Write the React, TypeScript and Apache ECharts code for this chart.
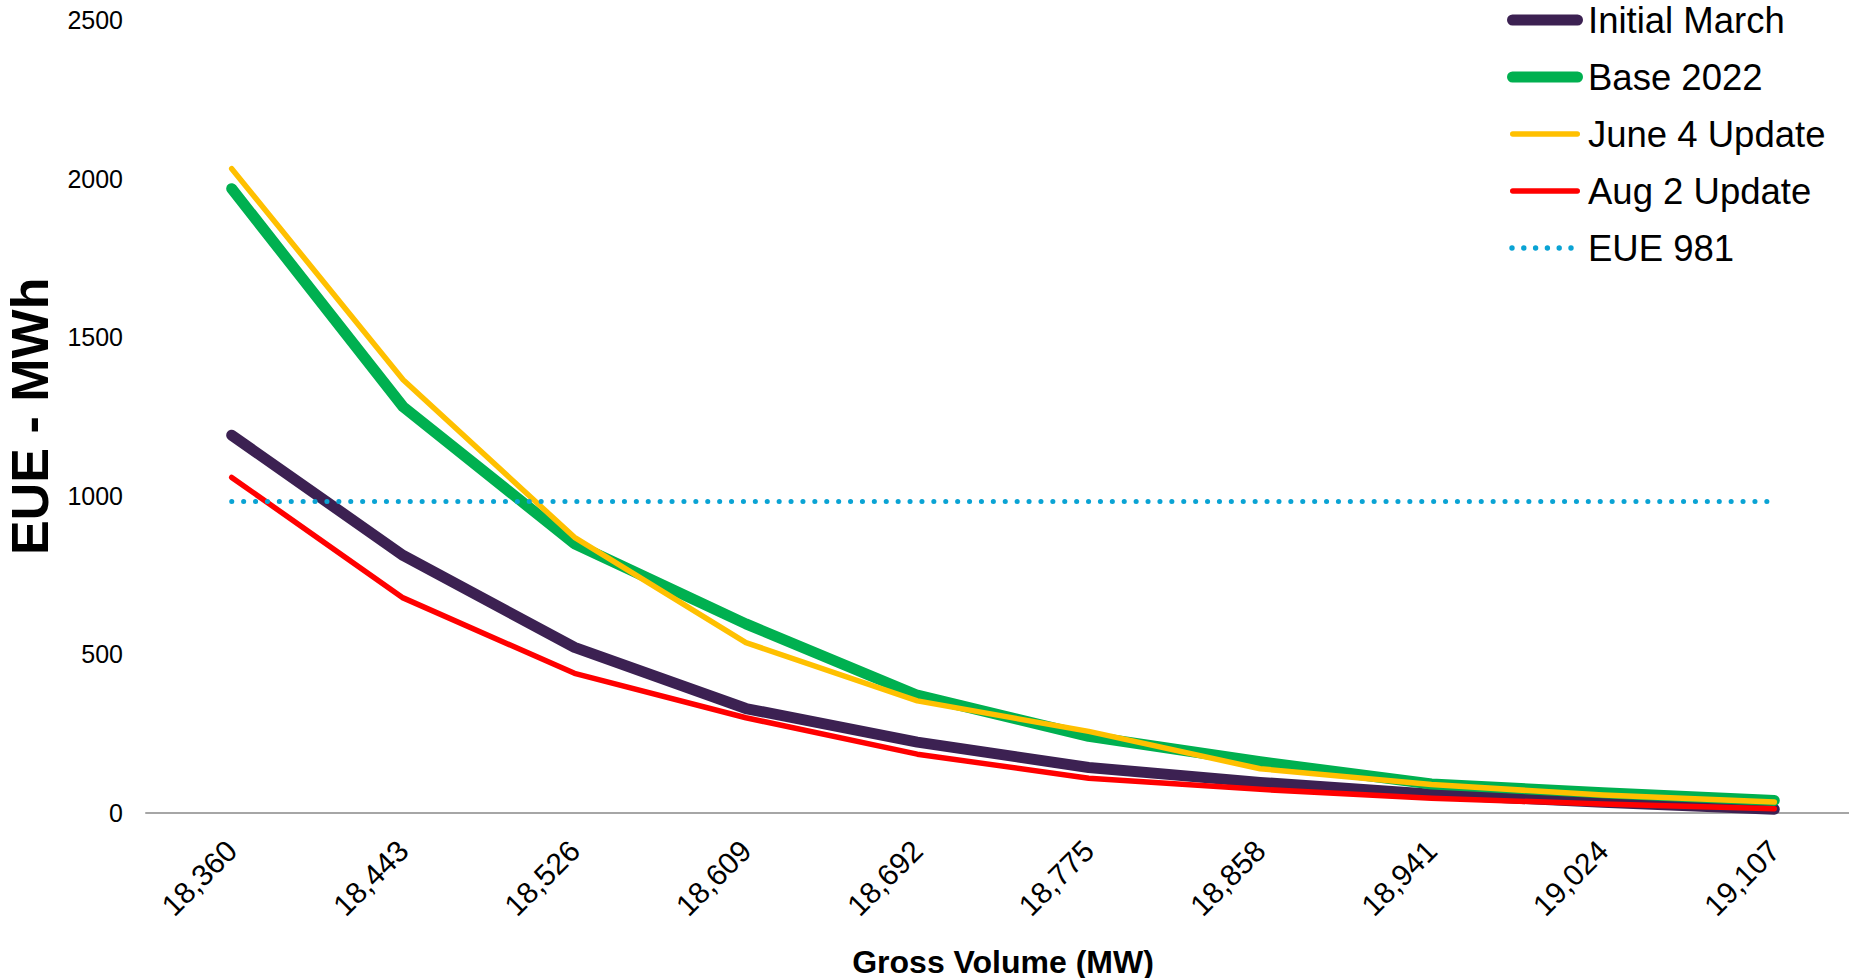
import React, { useEffect, useRef } from "react";
import * as echarts from "echarts";

const categories = ["18,360", "18,443", "18,526", "18,609", "18,692", "18,775", "18,858", "18,941", "19,024", "19,107"];
const initialMarch = [1190, 811, 521, 328, 222, 142, 95, 58, 32, 10];
const base2022 = [1968, 1280, 848, 595, 370, 240, 160, 90, 62, 38];
const june4Update = [2031, 1365, 868, 536, 352, 256, 138, 88, 55, 33];
const aug2Update = [1057, 677, 439, 299, 184, 108, 73, 45, 27, 12];
const eue981 = [981, 981, 981, 981, 981, 981, 981, 981, 981, 981];
const seriesNames = ["Initial March", "Base 2022", "June 4 Update", "Aug 2 Update", "EUE 981"];

const yMin = 0;
const yMax = 2500;
const yInterval = 500;

const FONT = "'Liberation Sans', Arial, Helvetica, sans-serif";

const thickIcon =
  "path://M0,0 M76,12 M5.5,0.5 L70.5,0.5 A5.5,5.5 0 0 1 70.5,11.5 L5.5,11.5 A5.5,5.5 0 0 1 5.5,0.5 Z";
const thinIcon =
  "path://M0,0 M76,12 M5.75,3.25 L70.25,3.25 A2.75,2.75 0 0 1 70.25,8.75 L5.75,8.75 A2.75,2.75 0 0 1 5.75,3.25 Z";
const dotCenters = [5, 16.8, 28.6, 40.4, 52.2, 64];
const dotIcon =
  "path://M0,0 M76,12 " +
  dotCenters
    .map((c) => `M${c - 2.7},6 A2.7,2.7 0 1 0 ${c + 2.7},6 A2.7,2.7 0 1 0 ${c - 2.7},6 Z`)
    .join(" ");

export default function App() {
  const ref = useRef<HTMLDivElement>(null);

  useEffect(() => {
    if (!ref.current) return;
    const chart = echarts.init(ref.current, null, { renderer: "svg" });
    const mk = (name: string, data: number[], color: string, width: number, type: any = "solid") => ({
      name,
      type: "line",
      data,
      symbol: "none",
      showSymbol: false,
      lineStyle: { color, width, type, cap: "round", join: "round" },
      itemStyle: { color },
      emphasis: { disabled: true },
    });
    chart.setOption({
      animation: false,
      backgroundColor: "#ffffff",
      textStyle: { fontFamily: FONT },
      grid: { left: 146, right: -11, top: 20, bottom: 165.5, containLabel: false, outerBoundsMode: "none" },
      legend: {
        orient: "vertical",
        left: 1507,
        top: 0,
        padding: 0,
        itemWidth: 76,
        itemHeight: 12,
        itemGap: 17,
        selectedMode: false,
        textStyle: { fontSize: 36.5, color: "#000", fontFamily: FONT, lineHeight: 40 },
        data: [
          { name: seriesNames[0], icon: thickIcon },
          { name: seriesNames[1], icon: thickIcon },
          { name: seriesNames[2], icon: thinIcon },
          { name: seriesNames[3], icon: thinIcon },
          { name: seriesNames[4], icon: dotIcon },
        ],
      },
      xAxis: {
        type: "category",
        data: categories,
        boundaryGap: true,
        axisLine: { show: true, lineStyle: { color: "#A6A6A6", width: 2 } },
        axisTick: { show: false },
        axisLabel: { rotate: 45, margin: 33, fontSize: 30, color: "#000", fontFamily: FONT, interval: 0 },
        name: "Gross Volume (MW)",
        nameLocation: "middle",
        nameGap: 133,
        nameTextStyle: { fontSize: 32, fontWeight: "bold", color: "#000", fontFamily: FONT },
      },
      yAxis: {
        type: "value",
        min: yMin,
        max: yMax,
        interval: yInterval,
        axisLine: { show: false },
        axisTick: { show: false },
        splitLine: { show: false },
        axisLabel: { margin: 23, fontSize: 25, color: "#000", fontFamily: FONT, formatter: (v: number) => String(v) },
        name: "EUE - MWh",
        nameLocation: "middle",
        nameRotate: 90,
        nameGap: 70,
        nameTextStyle: { fontSize: 52, fontWeight: "bold", color: "#000", fontFamily: FONT },
      },
      series: [
        mk(seriesNames[0], initialMarch, "#3C2152", 11),
        mk(seriesNames[1], base2022, "#00B050", 11),
        mk(seriesNames[2], june4Update, "#FFC000", 5.5),
        mk(seriesNames[3], aug2Update, "#FF0000", 5.5),
        mk(seriesNames[4], eue981, "#0AA3D4", 5, [0.1, 11.8]),
      ],
    });
    return () => chart.dispose();
  }, []);

  return <div ref={ref} style={{ position: "absolute", left: 0, top: 0, width: 1849, height: 978 }} />;
}
